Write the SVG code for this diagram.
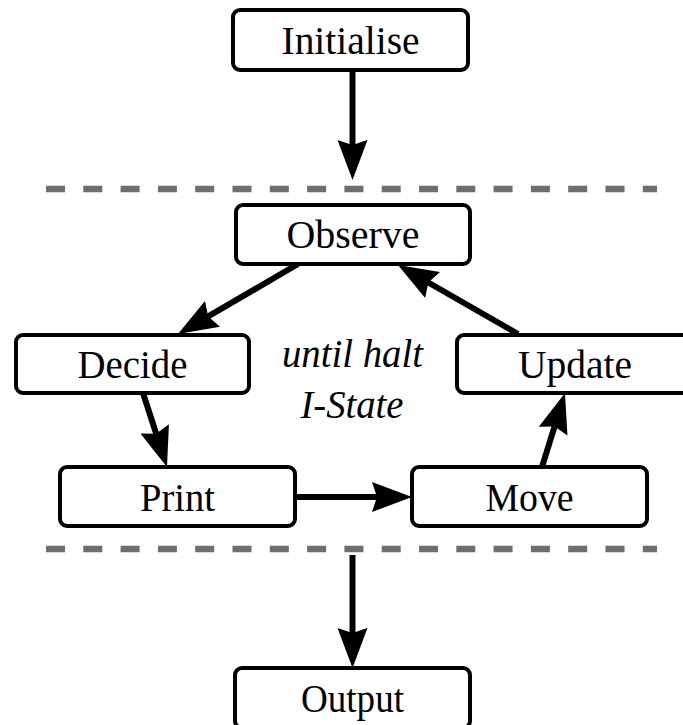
<svg xmlns="http://www.w3.org/2000/svg" width="683" height="725" viewBox="0 0 683 725">
<style>
.box{fill:#fff;stroke:#000;stroke-width:4}
.lbl{font-family:"Liberation Serif","Times New Roman",serif;font-size:40px;fill:#000;text-anchor:middle}
.it{font-style:italic}
.edge{stroke:#000;stroke-width:6;fill:none;marker-end:url(#ah)}
.sep{stroke:#6e6e6e;stroke-width:6.5;stroke-dasharray:19 18.3;fill:none}
</style>
<defs>
<marker id="ah" markerUnits="userSpaceOnUse" markerWidth="42" markerHeight="32" refX="5" refY="15" orient="auto" viewBox="0 0 42 30">
<path d="M0,0 L40,15 L0,30 L5,15 z" fill="#000"/>
</marker>
</defs>
<g id="separators">
<line class="sep" x1="46" y1="189" x2="657" y2="189"/>
<line class="sep" x1="46" y1="549" x2="657" y2="549"/>
</g>
<g id="connectors">
<line class="edge" x1="352.5" y1="70" x2="352.5" y2="145"/>
<line class="edge" x1="298" y1="264" x2="208.2" y2="316.4"/>
<line class="edge" x1="143" y1="393" x2="156.2" y2="433.7"/>
<line class="edge" x1="295" y1="497" x2="377" y2="497"/>
<line class="edge" x1="542" y1="467" x2="554.6" y2="426.4"/>
<line class="edge" x1="518" y1="334" x2="428.3" y2="282.5"/>
<line class="edge" x1="352.5" y1="555" x2="352.5" y2="633"/>
</g>
<g id="initialise">
<rect class="box" x="233" y="10" width="235" height="60" rx="7"/>
<text class="lbl" x="350.5" y="54" textLength="138" lengthAdjust="spacingAndGlyphs">Initialise</text>
</g>
<g id="observe">
<rect class="box" x="236" y="205" width="234" height="59" rx="7"/>
<text class="lbl" x="353" y="248" textLength="133" lengthAdjust="spacingAndGlyphs">Observe</text>
</g>
<g id="decide">
<rect class="box" x="16" y="335" width="233" height="58" rx="7"/>
<text class="lbl" x="132.5" y="377.5" textLength="110" lengthAdjust="spacingAndGlyphs">Decide</text>
</g>
<g id="update">
<rect class="box" x="457" y="335" width="235" height="58" rx="7"/>
<text class="lbl" x="575" y="377.5" textLength="114" lengthAdjust="spacingAndGlyphs">Update</text>
</g>
<g id="loop-label">
<text class="lbl it" x="352.5" y="367" textLength="141" lengthAdjust="spacingAndGlyphs">until halt</text>
<text class="lbl it" x="352" y="418" textLength="103" lengthAdjust="spacingAndGlyphs">I-State</text>
</g>
<g id="print">
<rect class="box" x="60" y="467" width="235" height="59" rx="7"/>
<text class="lbl" x="177.5" y="511" textLength="75" lengthAdjust="spacingAndGlyphs">Print</text>
</g>
<g id="move">
<rect class="box" x="412" y="467" width="235" height="59" rx="7"/>
<text class="lbl" x="529.5" y="511" textLength="88" lengthAdjust="spacingAndGlyphs">Move</text>
</g>
<g id="output">
<rect class="box" x="235" y="668" width="235" height="60" rx="7"/>
<text class="lbl" x="352.5" y="712" textLength="103" lengthAdjust="spacingAndGlyphs">Output</text>
</g>
</svg>
